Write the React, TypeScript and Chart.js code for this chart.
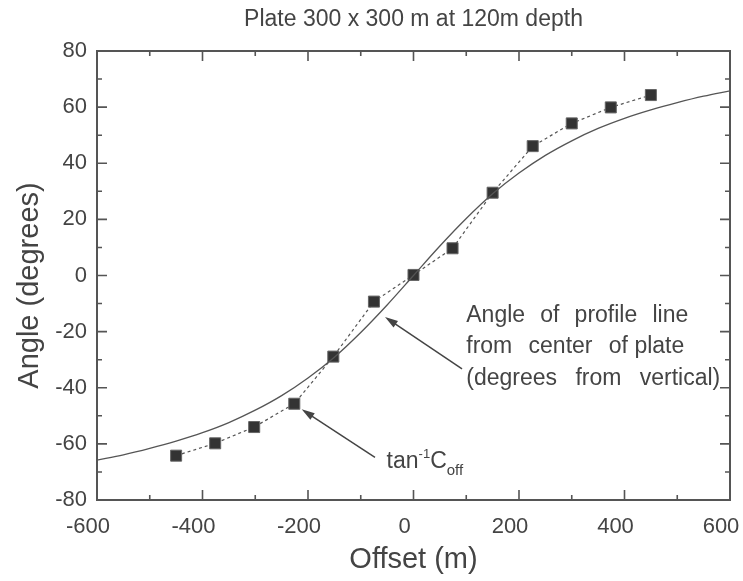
import React, { useEffect, useRef } from "react";
import { Chart, registerables } from "chart.js";

Chart.register(...registerables);

// Measured points (tan^-1 C_off)
const measuredOffsets = [-450, -376, -302, -226, -152, -75, 0, 74, 150, 226, 300, 374, 450];
const measuredAngles = [-64.2, -59.8, -54.0, -45.7, -28.9, -9.3, 0.2, 9.7, 29.5, 46.1, 54.2, 59.9, 64.3];

// Smooth curve: angle of profile line from center of plate
const curveOffsets = [-600, -550, -500, -450, -400, -350, -300, -250, -200, -150, -100, -50, 0, 50, 100, 150, 200, 250, 300, 350, 400, 450, 500, 550, 600];
const curveAngles = [-65.8, -63.9, -61.6, -59.0, -56.0, -52.4, -48.0, -42.8, -36.5, -29.1, -20.3, -10.5, 0, 10.5, 20.3, 29.1, 36.5, 42.8, 48.0, 52.4, 56.0, 59.0, 61.6, 63.9, 65.8];

const xRange = [-600, 600];
const yRange = [-80, 80];
const xStep = 200;
const yStep = 20;

const titleText = "Plate 300 x 300 m at 120m depth";
const xTitle = "Offset (m)";
const yTitle = "Angle (degrees)";
const noteLines = [["Angle", "of", "profile", "line"], ["from", "center", "of plate"], ["(degrees", "from", "vertical)"]];

const FONT = '"Liberation Sans", Arial, Helvetica, sans-serif';
const INK = "#444";
const AXIS = "#555";

function drawArrow(ctx: CanvasRenderingContext2D, x1: number, y1: number, x2: number, y2: number) {
  const ang = Math.atan2(y2 - y1, x2 - x1);
  const len = 13;
  const hw = 4;
  ctx.beginPath();
  ctx.moveTo(x1, y1);
  ctx.lineTo(x2 - Math.cos(ang) * len * 0.8, y2 - Math.sin(ang) * len * 0.8);
  ctx.stroke();
  ctx.beginPath();
  ctx.moveTo(x2, y2);
  ctx.lineTo(x2 - Math.cos(ang) * len - Math.sin(ang) * hw, y2 - Math.sin(ang) * len + Math.cos(ang) * hw);
  ctx.lineTo(x2 - Math.cos(ang) * len + Math.sin(ang) * hw, y2 - Math.sin(ang) * len - Math.cos(ang) * hw);
  ctx.closePath();
  ctx.fill();
}

function drawJustified(ctx: CanvasRenderingContext2D, words: string[], x: number, y: number, width: number) {
  const widths = words.map((w) => ctx.measureText(w).width);
  const total = widths.reduce((a, b) => a + b, 0);
  const gap = words.length > 1 ? (width - total) / (words.length - 1) : 0;
  let cx = x;
  words.forEach((w, i) => {
    ctx.fillText(w, cx, y);
    cx += widths[i] + gap;
  });
}

const framePlugin = {
  id: "frame",
  afterDatasetsDraw(chart: any) {
    const { ctx, chartArea: a, scales } = chart;
    const x = scales.x;
    const y = scales.y;
    ctx.save();
    ctx.strokeStyle = AXIS;
    ctx.lineWidth = 1.6;
    const majorLen = 10;
    const minorLen = 5;
    const xt = x.ticks.map((t: any) => t.value);
    const yt = y.ticks.map((t: any) => t.value);
    ctx.beginPath();
    xt.forEach((v: number, i: number) => {
      const px = x.getPixelForValue(v);
      ctx.moveTo(px, a.bottom); ctx.lineTo(px, a.bottom - majorLen);
      ctx.moveTo(px, a.top); ctx.lineTo(px, a.top + majorLen);
      if (i < xt.length - 1) {
        const pm = x.getPixelForValue((v + xt[i + 1]) / 2);
        ctx.moveTo(pm, a.bottom); ctx.lineTo(pm, a.bottom - minorLen);
        ctx.moveTo(pm, a.top); ctx.lineTo(pm, a.top + minorLen);
      }
    });
    yt.forEach((v: number, i: number) => {
      const py = y.getPixelForValue(v);
      ctx.moveTo(a.left, py); ctx.lineTo(a.left + majorLen, py);
      ctx.moveTo(a.right, py); ctx.lineTo(a.right - majorLen, py);
      if (i < yt.length - 1) {
        const pm = y.getPixelForValue((v + yt[i + 1]) / 2);
        ctx.moveTo(a.left, pm); ctx.lineTo(a.left + minorLen, pm);
        ctx.moveTo(a.right, pm); ctx.lineTo(a.right - minorLen, pm);
      }
    });
    ctx.stroke();
    ctx.lineWidth = 2;
    ctx.strokeRect(a.left, a.top, a.right - a.left, a.bottom - a.top);
    ctx.restore();
  },
  afterDraw(chart: any) {
    const { ctx, chartArea: a, scales } = chart;
    const x = scales.x;
    const y = scales.y;
    ctx.save();
    ctx.fillStyle = INK;
    ctx.strokeStyle = INK;
    ctx.lineWidth = 1.5;
    // title
    ctx.font = `23px ${FONT}`;
    ctx.textAlign = "center";
    ctx.textBaseline = "alphabetic";
    ctx.fillText(titleText, (a.left + a.right) / 2, 26);

    // y-axis title
    ctx.save();
    ctx.translate(38, (a.top + a.bottom) / 2 + 10);
    ctx.rotate(-Math.PI / 2);
    ctx.font = `29px ${FONT}`;
    ctx.textAlign = "center";
    ctx.fillText(yTitle, 0, 0);
    ctx.restore();

    // arrows
    drawArrow(ctx, x.getPixelForValue(92), y.getPixelForValue(-33.3), x.getPixelForValue(-54), y.getPixelForValue(-14.8));
    drawArrow(ctx, x.getPixelForValue(-73), y.getPixelForValue(-64.8), x.getPixelForValue(-212), y.getPixelForValue(-47.7));

    // note text
    ctx.textAlign = "left";
    ctx.font = `23px ${FONT}`;
    const nx = x.getPixelForValue(100);
    const ny = y.getPixelForValue(-16.5);
    const widthsTarget = [222, 218, 254];
    noteLines.forEach((words, i) => {
      drawJustified(ctx, words, nx, ny + i * 31.5, widthsTarget[i]);
    });

    // tan^-1 C_off
    let tx = x.getPixelForValue(-51);
    const ty = y.getPixelForValue(-68.6);
    ctx.font = `23px ${FONT}`;
    ctx.fillText("tan", tx, ty);
    tx += ctx.measureText("tan").width;
    ctx.font = `13px ${FONT}`;
    ctx.fillText("-1", tx, ty - 10);
    tx += ctx.measureText("-1").width;
    ctx.font = `23px ${FONT}`;
    ctx.fillText("C", tx, ty);
    tx += ctx.measureText("C").width;
    ctx.font = `15px ${FONT}`;
    ctx.fillText("off", tx, ty + 7);
    ctx.restore();
  },
};

export default function App() {
  const ref = useRef<HTMLCanvasElement | null>(null);
  useEffect(() => {
    if (!ref.current) return;
    const measured = measuredOffsets.map((v, i) => ({ x: v, y: measuredAngles[i] }));
    const curve = curveOffsets.map((v, i) => ({ x: v, y: curveAngles[i] }));
    const chart = new Chart(ref.current, {
      type: "line",
      data: {
        datasets: [
          {
            data: curve,
            borderColor: "#555",
            borderWidth: 1.3,
            pointRadius: 0,
            fill: false,
            cubicInterpolationMode: "monotone",
          },
          {
            data: measured,
            borderColor: "#555",
            borderWidth: 1.2,
            borderDash: [3, 3],
            pointStyle: "rect",
            pointRadius: 7.8,
            pointBackgroundColor: "#333",
            pointBorderColor: "#666",
            pointBorderWidth: 1,
            fill: false,
            tension: 0,
          },
        ],
      },
      options: {
        animation: false,
        responsive: false,
        devicePixelRatio: 1,
        layout: { padding: { top: 51, right: 13, left: 0, bottom: 0 } },
        plugins: { legend: { display: false }, tooltip: { enabled: false }, title: { display: false } },
        scales: {
          x: {
            type: "linear",
            min: xRange[0],
            max: xRange[1],
            ticks: { stepSize: xStep, color: INK, font: { family: FONT, size: 22 }, padding: 14, labelOffset: -9, maxRotation: 0, autoSkip: false },
            grid: { display: false, drawTicks: false },
            border: { display: false },
            title: { display: true, text: xTitle, color: INK, font: { family: FONT, size: 29 }, padding: { top: 2, bottom: 4 } },
            afterFit: (s: any) => { s.height = 81; s.paddingLeft = 0; s.paddingRight = 0; },
          },
          y: {
            type: "linear",
            min: yRange[0],
            max: yRange[1],
            ticks: { stepSize: yStep, color: INK, font: { family: FONT, size: 22 }, padding: 10, autoSkip: false },
            grid: { display: false, drawTicks: false },
            border: { display: false },
            title: { display: false },
            afterFit: (s: any) => { s.width = 97; s.paddingTop = 0; s.paddingBottom = 0; },
          },
        },
      } as any,
      plugins: [framePlugin],
    });
    return () => chart.destroy();
  }, []);
  return (
    <div style={{ position: "absolute", left: 0, top: 0, width: 743, height: 581, background: "#fff" }}>
      <canvas ref={ref} width={743} height={581} style={{ display: "block" }} />
    </div>
  );
}
